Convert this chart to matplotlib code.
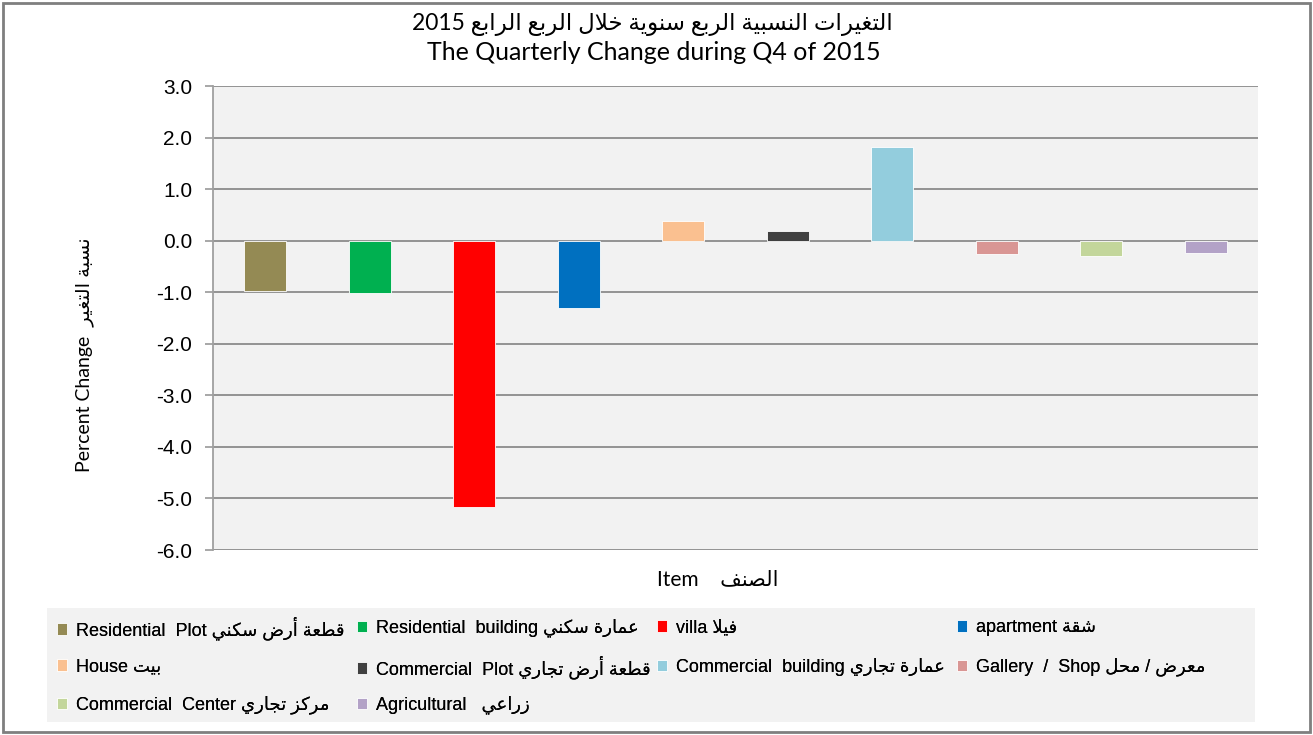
import matplotlib
matplotlib.use("Agg")
import matplotlib.pyplot as plt
from matplotlib.patches import Rectangle

# ---- data -------------------------------------------------------------
items_en = ["Residential  Plot", "Residential  building", "villa", "apartment",
            "House", "Commercial  Plot", "Commercial  building", "Gallery  /  Shop",
            "Commercial  Center", "Agricultural  "]
items_ar = ["قطعة أرض سكني", "عمارة سكني", "فيلا", "شقة",
            "بيت", "قطعة أرض تجاري", "عمارة تجاري", "معرض / محل",
            "مركز تجاري", "زراعي"]
change = [-0.98, -1.01, -5.17, -1.30, 0.39, 0.18, 1.81, -0.25, -0.29, -0.23]
colors = ["#948A54", "#00B050", "#FF0000", "#0070C0", "#FAC090",
          "#404040", "#93CDDD", "#D99694", "#C3D69B", "#B3A2C7"]
yticks = [3.0, 2.0, 1.0, 0.0, -1.0, -2.0, -3.0, -4.0, -5.0, -6.0]

title_ar = "التغيرات النسبية الربع سنوية خلال الربع الرابع"
title_en = "The Quarterly Change during Q4 of 2015"
ylabel_ar = "نسبة التغير"
xlabel_ar = "الصنف"

# ---- tiny arabic shaper (matplotlib has no bidi / joining) -----------
# isolated, final, initial, medial
FORMS = {
    'ا': (0xFE8D, 0xFE8E, None, None), 'أ': (0xFE83, 0xFE84, None, None),
    'ب': (0xFE8F, 0xFE90, 0xFE91, 0xFE92), 'ة': (0xFE93, 0xFE94, None, None),
    'ت': (0xFE95, 0xFE96, 0xFE97, 0xFE98), 'ج': (0xFE9D, 0xFE9E, 0xFE9F, 0xFEA0),
    'ح': (0xFEA1, 0xFEA2, 0xFEA3, 0xFEA4), 'خ': (0xFEA5, 0xFEA6, 0xFEA7, 0xFEA8),
    'ر': (0xFEAD, 0xFEAE, None, None), 'ز': (0xFEAF, 0xFEB0, None, None),
    'س': (0xFEB1, 0xFEB2, 0xFEB3, 0xFEB4), 'ش': (0xFEB5, 0xFEB6, 0xFEB7, 0xFEB8),
    'ص': (0xFEB9, 0xFEBA, 0xFEBB, 0xFEBC), 'ض': (0xFEBD, 0xFEBE, 0xFEBF, 0xFEC0),
    'ط': (0xFEC1, 0xFEC2, 0xFEC3, 0xFEC4), 'ع': (0xFEC9, 0xFECA, 0xFECB, 0xFECC),
    'غ': (0xFECD, 0xFECE, 0xFECF, 0xFED0), 'ف': (0xFED1, 0xFED2, 0xFED3, 0xFED4),
    'ق': (0xFED5, 0xFED6, 0xFED7, 0xFED8), 'ك': (0xFED9, 0xFEDA, 0xFEDB, 0xFEDC),
    'ل': (0xFEDD, 0xFEDE, 0xFEDF, 0xFEE0), 'م': (0xFEE1, 0xFEE2, 0xFEE3, 0xFEE4),
    'ن': (0xFEE5, 0xFEE6, 0xFEE7, 0xFEE8), 'و': (0xFEED, 0xFEEE, None, None),
    'ي': (0xFEF1, 0xFEF2, 0xFEF3, 0xFEF4),
}
LAM_ALEF = {'ا': (0xFEFB, 0xFEFC), 'أ': (0xFEF7, 0xFEF8)}


def shape(text):
    out = []
    prev = False
    i = 0
    while i < len(text):
        c = text[i]
        if c not in FORMS:
            out.append(c)
            prev = False
            i += 1
            continue
        nxt = text[i + 1] if i + 1 < len(text) else None
        if c == 'ل' and nxt in LAM_ALEF:
            iso, fin = LAM_ALEF[nxt]
            out.append(chr(fin if prev else iso))
            prev = False
            i += 2
            continue
        f = FORMS[c]
        joins = f[2] is not None and nxt in FORMS
        if prev and joins:
            code = f[3]
        elif prev:
            code = f[1]
        elif joins:
            code = f[2]
        else:
            code = f[0]
        out.append(chr(code))
        prev = joins
        i += 1
    return ''.join(reversed(out))


# ---- figure -----------------------------------------------------------
W, H = 1313, 735
fig = plt.figure(figsize=(W / 100, H / 100), dpi=100)
fig.patches.append(Rectangle((3 / W, 3 / H), 1 - 6 / W, 1 - 6 / H, transform=fig.transFigure,
                             fill=False, edgecolor="#7F7F7F", linewidth=2))

ax = fig.add_axes([213 / W, 1 - 550 / H, (1258 - 213) / W, (550 - 86) / H])
ax.set_facecolor("#F2F2F2")
x = list(range(len(change)))
bars = ax.bar(x, change, width=0.4, color=colors, edgecolor="white", linewidth=0.6, zorder=3)
ax.set_xlim(-0.5, len(change) - 0.5)
ax.set_ylim(-6, 3)
ax.set_yticks(yticks)
ax.set_yticklabels([f"{v:.1f}" for v in yticks], fontsize=15, family="Liberation Sans")
ax.set_xticks([])
ax.grid(axis="y", color="#8C8C8C", linewidth=1.3, zorder=0)
for s in ["top", "right", "bottom"]:
    ax.spines[s].set_visible(False)
ax.spines["left"].set_color("#A0A0A0")
ax.spines["left"].set_linewidth(1.3)
ax.tick_params(axis="y", length=6, color="#A0A0A0", width=1.3, pad=9)

lab_font = ["Lato", "DejaVu Sans"]
fig.text(652 / W, 1 - 24 / H, "2015 " + shape(title_ar), ha="center", va="center",
         fontsize=16.5, family=lab_font)
fig.text(654 / W, 1 - 52 / H, title_en, ha="center", va="center", fontsize=18, family=lab_font)
fig.text(85 / W, 1 - 355 / H, "Percent Change  " + shape(ylabel_ar), rotation=90,
         ha="center", va="center", fontsize=14, family=lab_font)
fig.text(718 / W, 1 - 579 / H, "Item    " + shape(xlabel_ar), ha="center", va="center",
         fontsize=15, family=lab_font)

# legend background
fig.patches.append(Rectangle((47 / W, 1 - 722 / H), (1255 - 47) / W, (722 - 608) / H,
                             transform=fig.transFigure, facecolor="#F2F2F2", edgecolor="none"))

# one small legend per cell so the grid is regular (4 columns, row-major order)
labels = [en + " " + shape(ar) for en, ar in zip(items_en, items_ar)]
col_x = [53, 353, 653, 953]
row_y = [628, 667, 705]
for i in range(len(labels)):
    leg = fig.legend([bars[i]], [labels[i]], loc="center left",
                     bbox_to_anchor=(col_x[i % 4] / W, 1 - row_y[i // 4] / H),
                     bbox_transform=fig.transFigure, frameon=False,
                     prop={"family": ["Liberation Sans", "DejaVu Sans"], "size": 13},
                     handlelength=0.6, handleheight=0.6, handletextpad=0.5,
                     borderaxespad=0, borderpad=0.2)
    fig.add_artist(leg)

fig.savefig("out.png", dpi=100)
